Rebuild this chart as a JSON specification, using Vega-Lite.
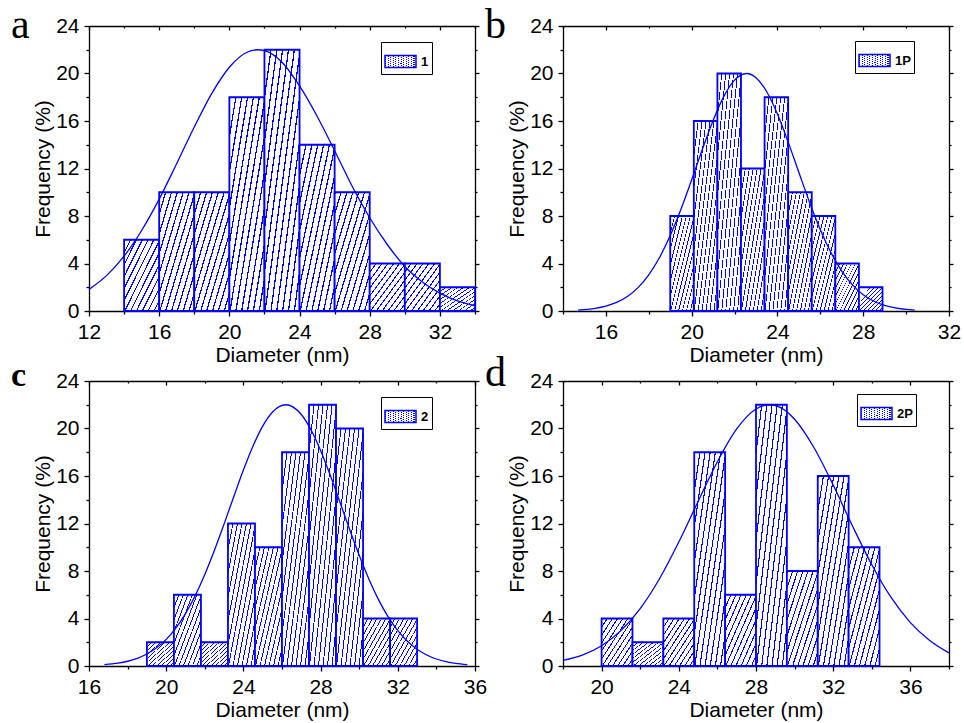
{
  "$schema": "https://vega.github.io/schema/vega-lite/v6.json",
  "padding": {"left": 11, "top": 4, "right": 5, "bottom": 5},
  "background": "white",
  "datasets": {
    "a_bars": [
      {"start": 14, "end": 16, "freq": 6, "sample": "1"},
      {"start": 16, "end": 18, "freq": 10, "sample": "1"},
      {"start": 18, "end": 20, "freq": 10, "sample": "1"},
      {"start": 20, "end": 22, "freq": 18, "sample": "1"},
      {"start": 22, "end": 24, "freq": 22, "sample": "1"},
      {"start": 24, "end": 26, "freq": 14, "sample": "1"},
      {"start": 26, "end": 28, "freq": 10, "sample": "1"},
      {"start": 28, "end": 30, "freq": 4, "sample": "1"},
      {"start": 30, "end": 32, "freq": 4, "sample": "1"},
      {"start": 32, "end": 34, "freq": 2, "sample": "1"}
    ],
    "a_fit": [
      {"d": 12, "f": 1.82}, {"d": 13, "f": 2.98}, {"d": 14, "f": 4.62}, {"d": 15, "f": 6.78},
      {"d": 16, "f": 9.42}, {"d": 17, "f": 12.42}, {"d": 18, "f": 15.5}, {"d": 19, "f": 18.33},
      {"d": 20, "f": 20.53}, {"d": 21, "f": 21.79}, {"d": 21.6, "f": 22}, {"d": 22, "f": 21.92},
      {"d": 23, "f": 20.95}, {"d": 24, "f": 18.95}, {"d": 25, "f": 16.4}, {"d": 26, "f": 13.5},
      {"d": 27, "f": 10.5}, {"d": 28, "f": 7.85}, {"d": 29, "f": 5.6}, {"d": 30, "f": 3.75},
      {"d": 31, "f": 2.45}, {"d": 32, "f": 1.5}, {"d": 33, "f": 0.85}, {"d": 34, "f": 0.45}
    ],
    "b_bars": [
      {"start": 19.0, "end": 20.1, "freq": 8, "sample": "1P"},
      {"start": 20.1, "end": 21.2, "freq": 16, "sample": "1P"},
      {"start": 21.2, "end": 22.3, "freq": 20, "sample": "1P"},
      {"start": 22.3, "end": 23.4, "freq": 12, "sample": "1P"},
      {"start": 23.4, "end": 24.5, "freq": 18, "sample": "1P"},
      {"start": 24.5, "end": 25.6, "freq": 10, "sample": "1P"},
      {"start": 25.6, "end": 26.7, "freq": 8, "sample": "1P"},
      {"start": 26.7, "end": 27.8, "freq": 4, "sample": "1P"},
      {"start": 27.8, "end": 28.9, "freq": 2, "sample": "1P"}
    ],
    "b_fit": [
      {"d": 14.7, "f": 0.07}, {"d": 15.5, "f": 0.22}, {"d": 16, "f": 0.41}, {"d": 16.5, "f": 0.72},
      {"d": 17, "f": 1.22}, {"d": 17.5, "f": 1.97}, {"d": 18, "f": 3.04}, {"d": 18.5, "f": 4.5},
      {"d": 19, "f": 6.35}, {"d": 19.5, "f": 8.57}, {"d": 20, "f": 11.05}, {"d": 20.5, "f": 13.62},
      {"d": 21, "f": 16.05}, {"d": 21.5, "f": 18.07}, {"d": 22, "f": 19.44}, {"d": 22.56, "f": 20},
      {"d": 23, "f": 19.65}, {"d": 23.5, "f": 18.46}, {"d": 24, "f": 16.58}, {"d": 24.5, "f": 14.22},
      {"d": 25, "f": 11.67}, {"d": 25.5, "f": 9.14}, {"d": 26, "f": 6.85}, {"d": 26.5, "f": 4.91},
      {"d": 27, "f": 3.36}, {"d": 27.5, "f": 2.2}, {"d": 28, "f": 1.37}, {"d": 28.5, "f": 0.82},
      {"d": 29, "f": 0.47}, {"d": 29.5, "f": 0.26}, {"d": 30, "f": 0.13}, {"d": 30.4, "f": 0.08}
    ],
    "c_bars": [
      {"start": 19.0, "end": 20.4, "freq": 2, "sample": "2"},
      {"start": 20.4, "end": 21.8, "freq": 6, "sample": "2"},
      {"start": 21.8, "end": 23.2, "freq": 2, "sample": "2"},
      {"start": 23.2, "end": 24.6, "freq": 12, "sample": "2"},
      {"start": 24.6, "end": 26.0, "freq": 10, "sample": "2"},
      {"start": 26.0, "end": 27.4, "freq": 18, "sample": "2"},
      {"start": 27.4, "end": 28.8, "freq": 22, "sample": "2"},
      {"start": 28.8, "end": 30.2, "freq": 20, "sample": "2"},
      {"start": 30.2, "end": 31.6, "freq": 4, "sample": "2"},
      {"start": 31.6, "end": 33.0, "freq": 4, "sample": "2"}
    ],
    "c_fit": [
      {"d": 16.8, "f": 0.12}, {"d": 17.5, "f": 0.24}, {"d": 18, "f": 0.4}, {"d": 18.5, "f": 0.65},
      {"d": 19, "f": 1.01}, {"d": 19.5, "f": 1.53}, {"d": 20, "f": 2.24}, {"d": 20.5, "f": 3.19},
      {"d": 21, "f": 4.41}, {"d": 21.5, "f": 5.92}, {"d": 22, "f": 7.71}, {"d": 22.5, "f": 9.75},
      {"d": 23, "f": 11.97}, {"d": 23.5, "f": 14.26}, {"d": 24, "f": 16.5}, {"d": 24.5, "f": 18.53},
      {"d": 25, "f": 20.2}, {"d": 25.5, "f": 21.37}, {"d": 26.2, "f": 22}, {"d": 27, "f": 21.18},
      {"d": 27.5, "f": 19.9}, {"d": 28, "f": 18.15}, {"d": 28.5, "f": 16.06}, {"d": 29, "f": 13.81},
      {"d": 29.5, "f": 11.51}, {"d": 30, "f": 9.32}, {"d": 30.5, "f": 7.33}, {"d": 31, "f": 5.59},
      {"d": 31.5, "f": 4.14}, {"d": 32, "f": 2.98}, {"d": 32.5, "f": 2.08}, {"d": 33, "f": 1.41},
      {"d": 33.5, "f": 0.93}, {"d": 34, "f": 0.59}, {"d": 34.5, "f": 0.37}, {"d": 35, "f": 0.22},
      {"d": 35.6, "f": 0.12}
    ],
    "d_bars": [
      {"start": 20.0, "end": 21.6, "freq": 4, "sample": "2P"},
      {"start": 21.6, "end": 23.2, "freq": 2, "sample": "2P"},
      {"start": 23.2, "end": 24.8, "freq": 4, "sample": "2P"},
      {"start": 24.8, "end": 26.4, "freq": 18, "sample": "2P"},
      {"start": 26.4, "end": 28.0, "freq": 6, "sample": "2P"},
      {"start": 28.0, "end": 29.6, "freq": 22, "sample": "2P"},
      {"start": 29.6, "end": 31.2, "freq": 8, "sample": "2P"},
      {"start": 31.2, "end": 32.8, "freq": 16, "sample": "2P"},
      {"start": 32.8, "end": 34.4, "freq": 10, "sample": "2P"}
    ],
    "d_fit": [
      {"d": 18, "f": 0.48}, {"d": 19, "f": 0.92}, {"d": 20, "f": 1.71}, {"d": 21, "f": 2.98},
      {"d": 22, "f": 4.84}, {"d": 23, "f": 7.35}, {"d": 24, "f": 10.44}, {"d": 25, "f": 13.86},
      {"d": 26, "f": 17.2}, {"d": 27, "f": 19.96}, {"d": 28, "f": 21.64}, {"d": 28.7, "f": 22},
      {"d": 29.5, "f": 21.53}, {"d": 30, "f": 20.78}, {"d": 31, "f": 18.4}, {"d": 32, "f": 15.24},
      {"d": 33, "f": 11.79}, {"d": 34, "f": 8.53}, {"d": 35, "f": 5.77}, {"d": 36, "f": 3.65},
      {"d": 37, "f": 2.15}, {"d": 38, "f": 1.1}
    ]
  },
  "columns": 2,
  "bounds": "flush",
  "spacing": {"column": 88, "row": 70},
  "resolve": {"scale": {"stroke": "independent"}, "legend": {"stroke": "independent"}},
  "concat": [
    {
      "title": {"text": "a", "dy": 36},
      "width": 386, "height": 285,
      "layer": [
        {
          "data": {"name": "a_bars"},
          "mark": {"type": "bar", "strokeWidth": 1.8},
          "encoding": {
            "x": {"field": "start", "type": "quantitative", "scale": {"domain": [12, 34], "nice": false, "zero": false},
              "axis": {"orient": "bottom", "title": "Diameter (nm)", "values": [12,14,16,18,20,22,24,26,28,30,32,34], "labelExpr": "datum.value % 4 === 0 ? datum.label : ''", "tickSize": {"condition": {"test": "datum.value % 4 === 0", "value": 5}, "value": 3}}},
            "x2": {"field": "end"},
            "y": {"field": "freq", "type": "quantitative", "scale": {"domain": [0, 24], "nice": false},
              "axis": {"orient": "left", "title": "Frequency (%)", "values": [0,2,4,6,8,10,12,14,16,18,20,22,24], "labelExpr": "datum.value % 4 === 0 ? datum.label : ''", "tickSize": {"condition": {"test": "datum.value % 4 === 0", "value": 5}, "value": 3}}},
            "y2": {"datum": 0},
            "stroke": {"field": "sample", "type": "nominal", "scale": {"range": ["#0000ff"]}, "legend": {"title": null, "orient": "none", "legendX": 292, "legendY": 16,
              "encode": {"symbols": {"update": {"fill": {"value": {"gradient": "linear", "x1": 0, "y1": 0, "x2": 1.2, "y2": 0.39, "stops": [
                {"offset": 0, "color": "#0000ff"}, {"offset": 0.03, "color": "#0000ff"}, {"offset": 0.03, "color": "#ffffff"}, {"offset": 0.125, "color": "#ffffff"},
                {"offset": 0.125, "color": "#0000ff"}, {"offset": 0.155, "color": "#0000ff"}, {"offset": 0.155, "color": "#ffffff"}, {"offset": 0.25, "color": "#ffffff"},
                {"offset": 0.25, "color": "#0000ff"}, {"offset": 0.28, "color": "#0000ff"}, {"offset": 0.28, "color": "#ffffff"}, {"offset": 0.375, "color": "#ffffff"},
                {"offset": 0.375, "color": "#0000ff"}, {"offset": 0.405, "color": "#0000ff"}, {"offset": 0.405, "color": "#ffffff"}, {"offset": 0.5, "color": "#ffffff"},
                {"offset": 0.5, "color": "#0000ff"}, {"offset": 0.53, "color": "#0000ff"}, {"offset": 0.53, "color": "#ffffff"}, {"offset": 0.625, "color": "#ffffff"},
                {"offset": 0.625, "color": "#0000ff"}, {"offset": 0.655, "color": "#0000ff"}, {"offset": 0.655, "color": "#ffffff"}, {"offset": 0.75, "color": "#ffffff"},
                {"offset": 0.75, "color": "#0000ff"}, {"offset": 0.78, "color": "#0000ff"}, {"offset": 0.78, "color": "#ffffff"}, {"offset": 0.875, "color": "#ffffff"},
                {"offset": 0.875, "color": "#0000ff"}, {"offset": 0.905, "color": "#0000ff"}, {"offset": 0.905, "color": "#ffffff"}, {"offset": 1, "color": "#ffffff"}]}}}}}}}
          }
        },
        {
          "data": {"name": "a_fit"},
          "mark": {"type": "line", "color": "#0000ff", "strokeWidth": 1.3, "interpolate": "monotone"},
          "encoding": {
            "x": {"field": "d", "type": "quantitative", "scale": {"domain": [12, 34], "nice": false, "zero": false},
              "axis": {"orient": "top", "title": null, "labels": false, "values": [12,14,16,18,20,22,24,26,28,30,32,34], "tickSize": {"condition": {"test": "datum.value % 4 === 0", "value": -4}, "value": -2}}},
            "y": {"field": "f", "type": "quantitative", "scale": {"domain": [0, 24], "nice": false},
              "axis": {"orient": "right", "title": null, "labels": false, "values": [0,2,4,6,8,10,12,14,16,18,20,22,24], "tickSize": {"condition": {"test": "datum.value % 4 === 0", "value": 4}, "value": 2}}}
          }
        }
      ],
      "resolve": {"scale": {"x": "independent", "y": "independent"}, "axis": {"x": "independent", "y": "independent"}}
    },
    {
      "title": {"text": "b", "dy": 36},
      "width": 386, "height": 285,
      "layer": [
        {
          "data": {"name": "b_bars"},
          "mark": {"type": "bar", "strokeWidth": 1.8},
          "encoding": {
            "x": {"field": "start", "type": "quantitative", "scale": {"domain": [14, 32], "nice": false, "zero": false},
              "axis": {"orient": "bottom", "title": "Diameter (nm)", "values": [14,16,18,20,22,24,26,28,30,32], "labelExpr": "datum.value % 4 === 0 ? datum.label : ''", "tickSize": {"condition": {"test": "datum.value % 4 === 0", "value": 5}, "value": 3}}},
            "x2": {"field": "end"},
            "y": {"field": "freq", "type": "quantitative", "scale": {"domain": [0, 24], "nice": false},
              "axis": {"orient": "left", "title": "Frequency (%)", "values": [0,2,4,6,8,10,12,14,16,18,20,22,24], "labelExpr": "datum.value % 4 === 0 ? datum.label : ''", "tickSize": {"condition": {"test": "datum.value % 4 === 0", "value": 5}, "value": 3}}},
            "y2": {"datum": 0},
            "stroke": {"field": "sample", "type": "nominal", "scale": {"range": ["#0000ff"]}, "legend": {"title": null, "orient": "none", "legendX": 292, "legendY": 15,
              "encode": {"symbols": {"update": {"fill": {"value": {"gradient": "linear", "x1": 0, "y1": 0, "x2": 1.2, "y2": 0.39, "stops": [
                {"offset": 0, "color": "#0000ff"}, {"offset": 0.03, "color": "#0000ff"}, {"offset": 0.03, "color": "#ffffff"}, {"offset": 0.125, "color": "#ffffff"},
                {"offset": 0.125, "color": "#0000ff"}, {"offset": 0.155, "color": "#0000ff"}, {"offset": 0.155, "color": "#ffffff"}, {"offset": 0.25, "color": "#ffffff"},
                {"offset": 0.25, "color": "#0000ff"}, {"offset": 0.28, "color": "#0000ff"}, {"offset": 0.28, "color": "#ffffff"}, {"offset": 0.375, "color": "#ffffff"},
                {"offset": 0.375, "color": "#0000ff"}, {"offset": 0.405, "color": "#0000ff"}, {"offset": 0.405, "color": "#ffffff"}, {"offset": 0.5, "color": "#ffffff"},
                {"offset": 0.5, "color": "#0000ff"}, {"offset": 0.53, "color": "#0000ff"}, {"offset": 0.53, "color": "#ffffff"}, {"offset": 0.625, "color": "#ffffff"},
                {"offset": 0.625, "color": "#0000ff"}, {"offset": 0.655, "color": "#0000ff"}, {"offset": 0.655, "color": "#ffffff"}, {"offset": 0.75, "color": "#ffffff"},
                {"offset": 0.75, "color": "#0000ff"}, {"offset": 0.78, "color": "#0000ff"}, {"offset": 0.78, "color": "#ffffff"}, {"offset": 0.875, "color": "#ffffff"},
                {"offset": 0.875, "color": "#0000ff"}, {"offset": 0.905, "color": "#0000ff"}, {"offset": 0.905, "color": "#ffffff"}, {"offset": 1, "color": "#ffffff"}]}}}}}}}
          }
        },
        {
          "data": {"name": "b_fit"},
          "mark": {"type": "line", "color": "#0000ff", "strokeWidth": 1.3, "interpolate": "monotone"},
          "encoding": {
            "x": {"field": "d", "type": "quantitative", "scale": {"domain": [14, 32], "nice": false, "zero": false},
              "axis": {"orient": "top", "title": null, "labels": false, "values": [14,16,18,20,22,24,26,28,30,32], "tickSize": {"condition": {"test": "datum.value % 4 === 0", "value": -4}, "value": -2}}},
            "y": {"field": "f", "type": "quantitative", "scale": {"domain": [0, 24], "nice": false},
              "axis": {"orient": "right", "title": null, "labels": false, "values": [0,2,4,6,8,10,12,14,16,18,20,22,24], "tickSize": {"condition": {"test": "datum.value % 4 === 0", "value": 4}, "value": 2}}}
          }
        }
      ],
      "resolve": {"scale": {"x": "independent", "y": "independent"}, "axis": {"x": "independent", "y": "independent"}}
    },
    {
      "title": {"text": "c", "dy": 27, "fontWeight": "bold", "fontSize": 34},
      "width": 386, "height": 285,
      "layer": [
        {
          "data": {"name": "c_bars"},
          "mark": {"type": "bar", "strokeWidth": 1.8},
          "encoding": {
            "x": {"field": "start", "type": "quantitative", "scale": {"domain": [16, 36], "nice": false, "zero": false},
              "axis": {"orient": "bottom", "title": "Diameter (nm)", "values": [16,18,20,22,24,26,28,30,32,34,36], "labelExpr": "datum.value % 4 === 0 ? datum.label : ''", "tickSize": {"condition": {"test": "datum.value % 4 === 0", "value": 5}, "value": 3}}},
            "x2": {"field": "end"},
            "y": {"field": "freq", "type": "quantitative", "scale": {"domain": [0, 24], "nice": false},
              "axis": {"orient": "left", "title": "Frequency (%)", "values": [0,2,4,6,8,10,12,14,16,18,20,22,24], "labelExpr": "datum.value % 4 === 0 ? datum.label : ''", "tickSize": {"condition": {"test": "datum.value % 4 === 0", "value": 5}, "value": 3}}},
            "y2": {"datum": 0},
            "stroke": {"field": "sample", "type": "nominal", "scale": {"range": ["#0000ff"]}, "legend": {"title": null, "orient": "none", "legendX": 292, "legendY": 16,
              "encode": {"symbols": {"update": {"fill": {"value": {"gradient": "linear", "x1": 0, "y1": 0, "x2": 1.2, "y2": 0.39, "stops": [
                {"offset": 0, "color": "#0000ff"}, {"offset": 0.03, "color": "#0000ff"}, {"offset": 0.03, "color": "#ffffff"}, {"offset": 0.125, "color": "#ffffff"},
                {"offset": 0.125, "color": "#0000ff"}, {"offset": 0.155, "color": "#0000ff"}, {"offset": 0.155, "color": "#ffffff"}, {"offset": 0.25, "color": "#ffffff"},
                {"offset": 0.25, "color": "#0000ff"}, {"offset": 0.28, "color": "#0000ff"}, {"offset": 0.28, "color": "#ffffff"}, {"offset": 0.375, "color": "#ffffff"},
                {"offset": 0.375, "color": "#0000ff"}, {"offset": 0.405, "color": "#0000ff"}, {"offset": 0.405, "color": "#ffffff"}, {"offset": 0.5, "color": "#ffffff"},
                {"offset": 0.5, "color": "#0000ff"}, {"offset": 0.53, "color": "#0000ff"}, {"offset": 0.53, "color": "#ffffff"}, {"offset": 0.625, "color": "#ffffff"},
                {"offset": 0.625, "color": "#0000ff"}, {"offset": 0.655, "color": "#0000ff"}, {"offset": 0.655, "color": "#ffffff"}, {"offset": 0.75, "color": "#ffffff"},
                {"offset": 0.75, "color": "#0000ff"}, {"offset": 0.78, "color": "#0000ff"}, {"offset": 0.78, "color": "#ffffff"}, {"offset": 0.875, "color": "#ffffff"},
                {"offset": 0.875, "color": "#0000ff"}, {"offset": 0.905, "color": "#0000ff"}, {"offset": 0.905, "color": "#ffffff"}, {"offset": 1, "color": "#ffffff"}]}}}}}}}
          }
        },
        {
          "data": {"name": "c_fit"},
          "mark": {"type": "line", "color": "#0000ff", "strokeWidth": 1.3, "interpolate": "monotone"},
          "encoding": {
            "x": {"field": "d", "type": "quantitative", "scale": {"domain": [16, 36], "nice": false, "zero": false},
              "axis": {"orient": "top", "title": null, "labels": false, "values": [16,18,20,22,24,26,28,30,32,34,36], "tickSize": {"condition": {"test": "datum.value % 4 === 0", "value": -4}, "value": -2}}},
            "y": {"field": "f", "type": "quantitative", "scale": {"domain": [0, 24], "nice": false},
              "axis": {"orient": "right", "title": null, "labels": false, "values": [0,2,4,6,8,10,12,14,16,18,20,22,24], "tickSize": {"condition": {"test": "datum.value % 4 === 0", "value": 4}, "value": 2}}}
          }
        }
      ],
      "resolve": {"scale": {"x": "independent", "y": "independent"}, "axis": {"x": "independent", "y": "independent"}}
    },
    {
      "title": {"text": "d", "dy": 29},
      "width": 386, "height": 285,
      "layer": [
        {
          "data": {"name": "d_bars"},
          "mark": {"type": "bar", "strokeWidth": 1.8},
          "encoding": {
            "x": {"field": "start", "type": "quantitative", "scale": {"domain": [18, 38], "nice": false, "zero": false},
              "axis": {"orient": "bottom", "title": "Diameter (nm)", "values": [18,20,22,24,26,28,30,32,34,36,38], "labelExpr": "datum.value % 4 === 0 ? datum.label : ''", "tickSize": {"condition": {"test": "datum.value % 4 === 0", "value": 5}, "value": 3}}},
            "x2": {"field": "end"},
            "y": {"field": "freq", "type": "quantitative", "scale": {"domain": [0, 24], "nice": false},
              "axis": {"orient": "left", "title": "Frequency (%)", "values": [0,2,4,6,8,10,12,14,16,18,20,22,24], "labelExpr": "datum.value % 4 === 0 ? datum.label : ''", "tickSize": {"condition": {"test": "datum.value % 4 === 0", "value": 5}, "value": 3}}},
            "y2": {"datum": 0},
            "stroke": {"field": "sample", "type": "nominal", "scale": {"range": ["#0000ff"]}, "legend": {"title": null, "orient": "none", "legendX": 294, "legendY": 13,
              "encode": {"symbols": {"update": {"fill": {"value": {"gradient": "linear", "x1": 0, "y1": 0, "x2": 1.2, "y2": 0.39, "stops": [
                {"offset": 0, "color": "#0000ff"}, {"offset": 0.03, "color": "#0000ff"}, {"offset": 0.03, "color": "#ffffff"}, {"offset": 0.125, "color": "#ffffff"},
                {"offset": 0.125, "color": "#0000ff"}, {"offset": 0.155, "color": "#0000ff"}, {"offset": 0.155, "color": "#ffffff"}, {"offset": 0.25, "color": "#ffffff"},
                {"offset": 0.25, "color": "#0000ff"}, {"offset": 0.28, "color": "#0000ff"}, {"offset": 0.28, "color": "#ffffff"}, {"offset": 0.375, "color": "#ffffff"},
                {"offset": 0.375, "color": "#0000ff"}, {"offset": 0.405, "color": "#0000ff"}, {"offset": 0.405, "color": "#ffffff"}, {"offset": 0.5, "color": "#ffffff"},
                {"offset": 0.5, "color": "#0000ff"}, {"offset": 0.53, "color": "#0000ff"}, {"offset": 0.53, "color": "#ffffff"}, {"offset": 0.625, "color": "#ffffff"},
                {"offset": 0.625, "color": "#0000ff"}, {"offset": 0.655, "color": "#0000ff"}, {"offset": 0.655, "color": "#ffffff"}, {"offset": 0.75, "color": "#ffffff"},
                {"offset": 0.75, "color": "#0000ff"}, {"offset": 0.78, "color": "#0000ff"}, {"offset": 0.78, "color": "#ffffff"}, {"offset": 0.875, "color": "#ffffff"},
                {"offset": 0.875, "color": "#0000ff"}, {"offset": 0.905, "color": "#0000ff"}, {"offset": 0.905, "color": "#ffffff"}, {"offset": 1, "color": "#ffffff"}]}}}}}}}
          }
        },
        {
          "data": {"name": "d_fit"},
          "mark": {"type": "line", "color": "#0000ff", "strokeWidth": 1.3, "interpolate": "monotone"},
          "encoding": {
            "x": {"field": "d", "type": "quantitative", "scale": {"domain": [18, 38], "nice": false, "zero": false},
              "axis": {"orient": "top", "title": null, "labels": false, "values": [18,20,22,24,26,28,30,32,34,36,38], "tickSize": {"condition": {"test": "datum.value % 4 === 0", "value": -4}, "value": -2}}},
            "y": {"field": "f", "type": "quantitative", "scale": {"domain": [0, 24], "nice": false},
              "axis": {"orient": "right", "title": null, "labels": false, "values": [0,2,4,6,8,10,12,14,16,18,20,22,24], "tickSize": {"condition": {"test": "datum.value % 4 === 0", "value": 4}, "value": 2}}}
          }
        }
      ],
      "resolve": {"scale": {"x": "independent", "y": "independent"}, "axis": {"x": "independent", "y": "independent"}}
    }
  ],
  "config": {
    "view": {"stroke": null},
    "font": "Liberation Sans",
    "axis": {
      "labelFont": "Liberation Sans", "labelFontSize": 21, "labelColor": "#000000",
      "titleFont": "Liberation Sans", "titleFontSize": 21, "titleFontWeight": "normal", "titleColor": "#000000",
      "domainColor": "#000000", "domainWidth": 1.3, "tickColor": "#000000", "tickWidth": 1.3,
      "grid": false, "labelOverlap": false, "labelFlush": false, "zindex": 1,
      "labelPadding": 5, "titlePadding": 2
    },
    "bar": {"fill": {"gradient": "linear", "x1": 0, "y1": 0, "x2": 1, "y2": 1, "stops": [
      {"offset": 0, "color": "#0000ff"}, {"offset": 0.018, "color": "#0000ff"}, {"offset": 0.018, "color": "#ffffff"}, {"offset": 0.0833, "color": "#ffffff"},
      {"offset": 0.0833, "color": "#0000ff"}, {"offset": 0.1013, "color": "#0000ff"}, {"offset": 0.1013, "color": "#ffffff"}, {"offset": 0.1667, "color": "#ffffff"},
      {"offset": 0.1667, "color": "#0000ff"}, {"offset": 0.1847, "color": "#0000ff"}, {"offset": 0.1847, "color": "#ffffff"}, {"offset": 0.25, "color": "#ffffff"},
      {"offset": 0.25, "color": "#0000ff"}, {"offset": 0.268, "color": "#0000ff"}, {"offset": 0.268, "color": "#ffffff"}, {"offset": 0.3333, "color": "#ffffff"},
      {"offset": 0.3333, "color": "#0000ff"}, {"offset": 0.3513, "color": "#0000ff"}, {"offset": 0.3513, "color": "#ffffff"}, {"offset": 0.4167, "color": "#ffffff"},
      {"offset": 0.4167, "color": "#0000ff"}, {"offset": 0.4347, "color": "#0000ff"}, {"offset": 0.4347, "color": "#ffffff"}, {"offset": 0.5, "color": "#ffffff"},
      {"offset": 0.5, "color": "#0000ff"}, {"offset": 0.518, "color": "#0000ff"}, {"offset": 0.518, "color": "#ffffff"}, {"offset": 0.5833, "color": "#ffffff"},
      {"offset": 0.5833, "color": "#0000ff"}, {"offset": 0.6013, "color": "#0000ff"}, {"offset": 0.6013, "color": "#ffffff"}, {"offset": 0.6667, "color": "#ffffff"},
      {"offset": 0.6667, "color": "#0000ff"}, {"offset": 0.6847, "color": "#0000ff"}, {"offset": 0.6847, "color": "#ffffff"}, {"offset": 0.75, "color": "#ffffff"},
      {"offset": 0.75, "color": "#0000ff"}, {"offset": 0.768, "color": "#0000ff"}, {"offset": 0.768, "color": "#ffffff"}, {"offset": 0.8333, "color": "#ffffff"},
      {"offset": 0.8333, "color": "#0000ff"}, {"offset": 0.8513, "color": "#0000ff"}, {"offset": 0.8513, "color": "#ffffff"}, {"offset": 0.9167, "color": "#ffffff"},
      {"offset": 0.9167, "color": "#0000ff"}, {"offset": 0.9347, "color": "#0000ff"}, {"offset": 0.9347, "color": "#ffffff"}, {"offset": 1, "color": "#ffffff"}
    ]}},
    "legend": {
      "symbolType": "M-1,-0.387H1V0.387H-1Z", "symbolSize": 961, "symbolStrokeWidth": 1.5,
      "labelFont": "Liberation Sans", "labelFontSize": 13, "labelFontWeight": "bold", "labelColor": "#000000",
      "labelOffset": 4, "strokeColor": "#000000", "fillColor": "#ffffff", "padding": 3
    },
    "title": {"font": "Liberation Serif", "fontSize": 42, "fontWeight": "normal", "color": "#000000", "anchor": "start", "frame": "group", "offset": 0, "dx": -78, "baseline": "alphabetic"}
  }
}
